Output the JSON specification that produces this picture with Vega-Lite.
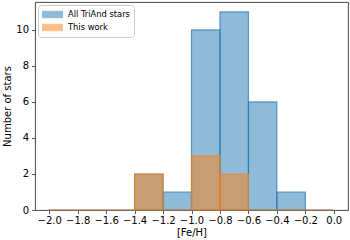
{
  "$schema": "https://vega.github.io/schema/vega-lite/v6.json",
  "width": 350,
  "height": 240,
  "autosize": {"type": "fit", "contains": "padding"},
  "padding": {"left": 2, "top": 2, "right": 2, "bottom": 2},
  "config": {
    "font": "DejaVu Sans",
    "view": {"stroke": "#333333", "strokeWidth": 0.9},
    "axis": {
      "grid": false,
      "domain": false,
      "tickColor": "#333333",
      "tickSize": 3.5,
      "tickWidth": 0.8,
      "labelFont": "DejaVu Sans",
      "labelFontSize": 10,
      "labelColor": "#000000",
      "titleFont": "DejaVu Sans",
      "titleFontSize": 10,
      "titleFontWeight": "normal",
      "titleColor": "#000000"
    }
  },
  "data": {
    "values": [
      {"series": "All TriAnd stars", "start": -2.0, "end": -1.8, "count": 0},
      {"series": "All TriAnd stars", "start": -1.8, "end": -1.6, "count": 0},
      {"series": "All TriAnd stars", "start": -1.6, "end": -1.4, "count": 0},
      {"series": "All TriAnd stars", "start": -1.4, "end": -1.2, "count": 2},
      {"series": "All TriAnd stars", "start": -1.2, "end": -1.0, "count": 1},
      {"series": "All TriAnd stars", "start": -1.0, "end": -0.8, "count": 10},
      {"series": "All TriAnd stars", "start": -0.8, "end": -0.6, "count": 11},
      {"series": "All TriAnd stars", "start": -0.6, "end": -0.4, "count": 6},
      {"series": "All TriAnd stars", "start": -0.4, "end": -0.2, "count": 1},
      {"series": "All TriAnd stars", "start": -0.2, "end": 0.0, "count": 0},
      {"series": "This work", "start": -2.0, "end": -1.8, "count": 0},
      {"series": "This work", "start": -1.8, "end": -1.6, "count": 0},
      {"series": "This work", "start": -1.6, "end": -1.4, "count": 0},
      {"series": "This work", "start": -1.4, "end": -1.2, "count": 2},
      {"series": "This work", "start": -1.2, "end": -1.0, "count": 0},
      {"series": "This work", "start": -1.0, "end": -0.8, "count": 3},
      {"series": "This work", "start": -0.8, "end": -0.6, "count": 2},
      {"series": "This work", "start": -0.6, "end": -0.4, "count": 0},
      {"series": "This work", "start": -0.4, "end": -0.2, "count": 0},
      {"series": "This work", "start": -0.2, "end": 0.0, "count": 0}
    ]
  },
  "mark": {"type": "rect", "fillOpacity": 0.5, "strokeOpacity": 0.7, "strokeWidth": 1.2},
  "encoding": {
    "x": {
      "field": "start",
      "type": "quantitative",
      "title": "[Fe/H]",
      "scale": {"domain": [-2.1, 0.1], "nice": false, "zero": false},
      "axis": {"values": [-2.0, -1.8, -1.6, -1.4, -1.2, -1.0, -0.8, -0.6, -0.4, -0.2, 0.0], "labelExpr": "replace(format(datum.value, '.1f'), '-', '\u2212')", "titlePadding": 2, "labelPadding": 2}
    },
    "x2": {"field": "end"},
    "y": {
      "field": "count",
      "type": "quantitative",
      "title": "Number of stars",
      "scale": {"domain": [0, 11.55], "nice": false},
      "axis": {"values": [0, 2, 4, 6, 8, 10], "titlePadding": 3, "labelPadding": 3}
    },
    "y2": {"datum": 0},
    "color": {
      "field": "series",
      "type": "nominal",
      "scale": {"domain": ["All TriAnd stars", "This work"], "range": ["#1f77b4", "#ff7f0e"]},
      "legend": {
        "title": null,
        "orient": "top-left",
        "offset": 3,
        "symbolType": "M-1,-0.64H3V0.64H-1Z",
        "symbolSize": 100,
        "symbolOpacity": 0.5,
        "symbolStrokeWidth": 1,
        "labelFontSize": 8.33,
        "labelFont": "DejaVu Sans",
        "labelColor": "#000000",
        "labelOffset": 15,
        "fillColor": "#ffffff",
        "strokeColor": "#cccccc",
        "cornerRadius": 3,
        "padding": 4,
        "rowPadding": 2
      }
    },
    "stroke": {
      "field": "series",
      "type": "nominal",
      "scale": {"domain": ["All TriAnd stars", "This work"], "range": ["#1f77b4", "#ff7f0e"]},
      "legend": null
    }
  }
}
